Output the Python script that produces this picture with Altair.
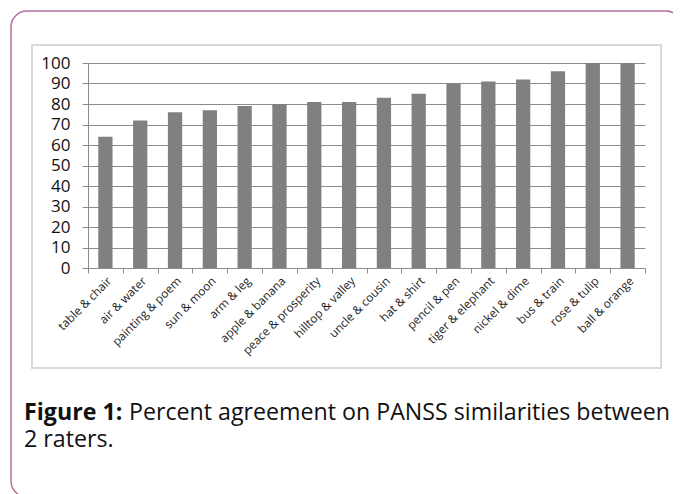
import altair as alt
import pandas as pd

pairs = ["table & chair", "air & water", "painting & poem", "sun & moon", "arm & leg",
         "apple & banana", "peace & prosperity", "hilltop & valley", "uncle & cousin",
         "hat & shirt", "pencil & pen", "tiger & elephant", "nickel & dime", "bus & train",
         "rose & tulip", "ball & orange"]
agreement = [64, 72, 76, 77, 79, 80, 81, 81, 83, 85, 90, 91, 92, 96, 100, 100]
y_ticks = [0, 10, 20, 30, 40, 50, 60, 70, 80, 90, 100]
caption_bold = "Figure 1:"
caption_line1 = "Percent agreement on PANSS similarities between"
caption_line2 = "2 raters."

df = pd.DataFrame({"pair": pairs, "value": agreement})
one = alt.Data(values=[{"k": 1}])
FONT = "Open Sans"

bars = alt.Chart(df).mark_bar(color="#808080", width=alt.RelativeBandSize(0.41)).encode(
    x=alt.X("pair:N", sort=None, title=None,
            scale=alt.Scale(paddingInner=0, paddingOuter=0),
            axis=alt.Axis(labelAngle=-45, labelFontSize=11.8, labelFont=FONT,
                          labelColor="#222", tickBand="extent", tickSize=5,
                          tickColor="#8c8c8c", domainColor="#8c8c8c",
                          labelPadding=2, grid=False)),
    y=alt.Y("value:Q", title=None,
            scale=alt.Scale(domain=[0, 100], nice=False),
            axis=alt.Axis(values=y_ticks, labelFontSize=17, labelFont=FONT,
                          labelColor="#111", tickSize=6, tickColor="#8c8c8c",
                          domainColor="#8c8c8c", gridColor="#8c8c8c", gridOpacity=1,
                          labelPadding=12)),
)

outer = alt.Chart(one).mark_rect(fill=None, stroke="#b3709e", strokeWidth=1.5,
                                 cornerRadius=16).encode(
    x=alt.value(-77), x2=alt.value(594), y=alt.value(-52), y2=alt.value(434))
inner = alt.Chart(one).mark_rect(fill=None, stroke="#d9d9d9", strokeWidth=2).encode(
    x=alt.value(-56), x2=alt.value(573), y=alt.value(-18), y2=alt.value(305))

cap_b = alt.Chart(one).mark_text(text=caption_bold, font=FONT, fontSize=23.2, fontWeight="bold",
                                 align="left", baseline="alphabetic", color="#111").encode(
    x=alt.value(-64), y=alt.value(357))
cap_1 = alt.Chart(one).mark_text(text=caption_line1, font=FONT, fontSize=23.2,
                                 align="left", baseline="alphabetic", color="#111").encode(
    x=alt.value(41), y=alt.value(357))
cap_2 = alt.Chart(one).mark_text(text=caption_line2, font=FONT, fontSize=23.2,
                                 align="left", baseline="alphabetic", color="#111").encode(
    x=alt.value(-64), y=alt.value(384))

chart = alt.layer(outer, inner, bars, cap_b, cap_1, cap_2).properties(
    width=557, height=205,
    autosize=alt.AutoSizeParams(type="none"),
    padding={"left": 80, "top": 55, "right": 28, "bottom": 230},
    background="white",
).configure_view(stroke=None)

chart.save("out.html", embed_options={"renderer": "svg", "actions": False})
